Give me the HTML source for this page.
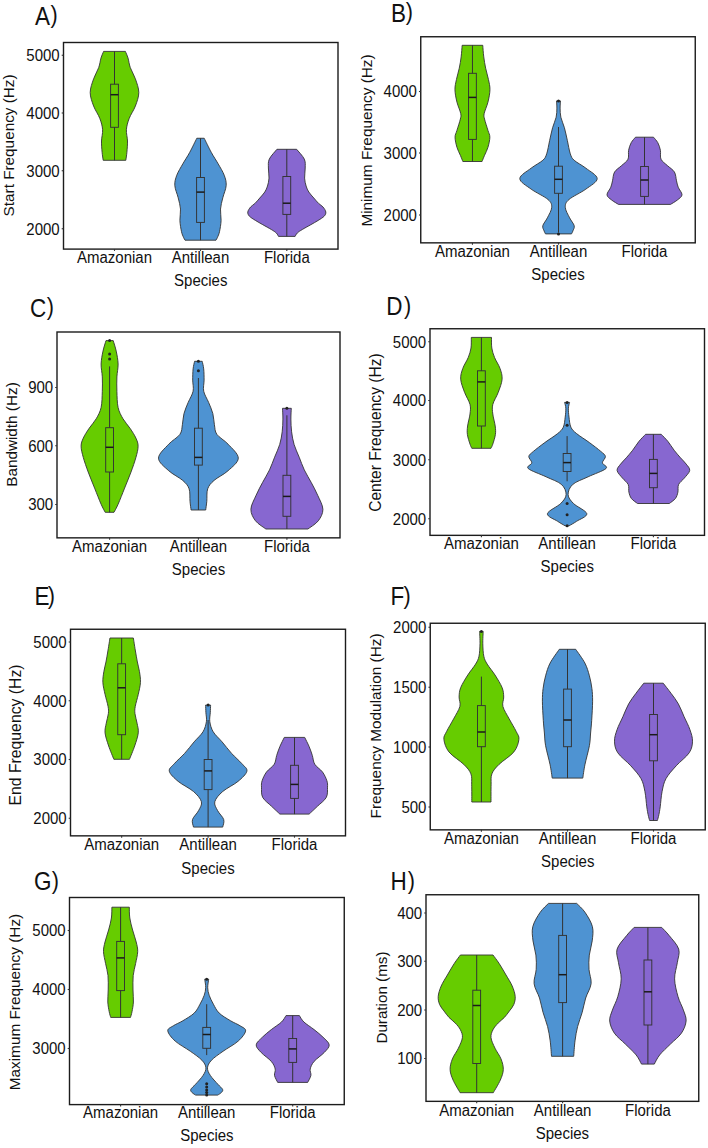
<!DOCTYPE html><html><head><meta charset="utf-8"><style>html,body{margin:0;padding:0;background:#fff;}svg{display:block;}</style></head><body>
<svg width="708" height="1148" viewBox="0 0 708 1148" style="font-family:'Liberation Sans', sans-serif">
<rect width="708" height="1148" fill="#fff"/>
<path d="M103.60,51.40 L125.40,51.40 C125.83,52.50 127.18,55.30 128.00,58.00 C128.82,60.70 129.07,64.12 130.30,67.60 C131.53,71.08 133.98,74.75 135.40,78.90 C136.82,83.05 138.80,87.98 138.80,92.50 C138.80,97.02 137.00,101.68 135.40,106.00 C133.80,110.32 130.70,114.45 129.20,118.40 C127.70,122.35 126.68,125.93 126.40,129.70 C126.12,133.47 127.42,137.23 127.50,141.00 C127.58,144.77 127.18,149.08 126.90,152.30 C126.62,155.52 125.98,158.97 125.80,160.30 L103.20,160.30 C103.02,158.97 102.38,155.52 102.10,152.30 C101.82,149.08 101.42,144.77 101.50,141.00 C101.58,137.23 102.88,133.47 102.60,129.70 C102.32,125.93 101.30,122.35 99.80,118.40 C98.30,114.45 95.20,110.32 93.60,106.00 C92.00,101.68 90.20,97.02 90.20,92.50 C90.20,87.98 92.18,83.05 93.60,78.90 C95.02,74.75 97.47,71.08 98.70,67.60 C99.93,64.12 100.18,60.70 101.00,58.00 C101.82,55.30 103.17,52.50 103.60,51.40 Z" fill="#66cc00" stroke="#333333" stroke-width="0.9" stroke-linejoin="round"/>
<line x1="114.50" y1="51.40" x2="114.50" y2="84.20" stroke="#333333" stroke-width="1"/>
<line x1="114.50" y1="127.30" x2="114.50" y2="160.30" stroke="#333333" stroke-width="1"/>
<rect x="110.60" y="84.20" width="7.80" height="43.10" fill="none" stroke="#333333" stroke-width="0.95"/>
<line x1="110.60" y1="94.70" x2="118.40" y2="94.70" stroke="#1a1a1a" stroke-width="1.5"/>
<path d="M196.80,138.25 L204.20,138.25 C205.40,140.64 209.07,148.32 211.40,152.60 C213.73,156.88 216.07,160.13 218.20,163.90 C220.33,167.67 222.87,171.62 224.20,175.20 C225.53,178.78 226.43,181.63 226.20,185.40 C225.97,189.17 223.75,193.85 222.80,197.80 C221.85,201.75 220.78,205.33 220.50,209.10 C220.22,212.87 221.27,216.63 221.10,220.40 C220.93,224.17 220.10,228.88 219.50,231.70 C218.90,234.52 218.08,235.88 217.50,237.30 C216.92,238.72 216.25,239.72 216.00,240.20 L185.00,240.20 C184.75,239.72 184.08,238.72 183.50,237.30 C182.92,235.88 182.10,234.52 181.50,231.70 C180.90,228.88 180.07,224.17 179.90,220.40 C179.73,216.63 180.78,212.87 180.50,209.10 C180.22,205.33 179.15,201.75 178.20,197.80 C177.25,193.85 175.03,189.17 174.80,185.40 C174.57,181.63 175.47,178.78 176.80,175.20 C178.13,171.62 180.67,167.67 182.80,163.90 C184.93,160.13 187.27,156.88 189.60,152.60 C191.93,148.32 195.60,140.64 196.80,138.25 Z" fill="#4e93d2" stroke="#333333" stroke-width="0.9" stroke-linejoin="round"/>
<line x1="200.50" y1="138.25" x2="200.50" y2="177.50" stroke="#333333" stroke-width="1"/>
<line x1="200.50" y1="222.40" x2="200.50" y2="240.20" stroke="#333333" stroke-width="1"/>
<rect x="196.60" y="177.50" width="7.80" height="44.90" fill="none" stroke="#333333" stroke-width="0.95"/>
<line x1="196.60" y1="192.10" x2="204.40" y2="192.10" stroke="#1a1a1a" stroke-width="1.5"/>
<path d="M276.95,149.30 L296.65,149.30 C297.93,150.93 302.88,155.98 304.30,159.10 C305.73,162.22 305.15,164.83 305.20,168.00 C305.25,171.17 304.45,175.10 304.60,178.10 C304.75,181.10 305.40,183.68 306.10,186.00 C306.80,188.32 307.52,190.00 308.80,192.00 C310.08,194.00 312.15,196.08 313.80,198.00 C315.45,199.92 317.17,202.00 318.70,203.50 C320.23,205.00 321.82,205.58 323.00,207.00 C324.18,208.42 325.60,210.47 325.80,212.00 C326.00,213.53 325.47,214.80 324.20,216.20 C322.93,217.60 320.43,218.98 318.20,220.40 C315.97,221.82 313.45,223.18 310.80,224.70 C308.15,226.22 304.55,228.12 302.30,229.50 C300.05,230.88 298.50,231.85 297.30,233.00 C296.10,234.15 295.47,235.83 295.10,236.40 L278.50,236.40 C278.13,235.83 277.50,234.15 276.30,233.00 C275.10,231.85 273.55,230.88 271.30,229.50 C269.05,228.12 265.45,226.22 262.80,224.70 C260.15,223.18 257.63,221.82 255.40,220.40 C253.17,218.98 250.67,217.60 249.40,216.20 C248.13,214.80 247.60,213.53 247.80,212.00 C248.00,210.47 249.42,208.42 250.60,207.00 C251.78,205.58 253.37,205.00 254.90,203.50 C256.43,202.00 258.15,199.92 259.80,198.00 C261.45,196.08 263.52,194.00 264.80,192.00 C266.08,190.00 266.80,188.32 267.50,186.00 C268.20,183.68 268.85,181.10 269.00,178.10 C269.15,175.10 268.35,171.17 268.40,168.00 C268.45,164.83 267.88,162.22 269.30,159.10 C270.73,155.98 275.68,150.93 276.95,149.30 Z" fill="#8767d0" stroke="#333333" stroke-width="0.9" stroke-linejoin="round"/>
<line x1="286.80" y1="149.30" x2="286.80" y2="176.50" stroke="#333333" stroke-width="1"/>
<line x1="286.80" y1="214.40" x2="286.80" y2="236.40" stroke="#333333" stroke-width="1"/>
<rect x="282.90" y="176.50" width="7.80" height="37.90" fill="none" stroke="#333333" stroke-width="0.95"/>
<line x1="282.90" y1="203.20" x2="290.70" y2="203.20" stroke="#1a1a1a" stroke-width="1.5"/>
<rect x="63.50" y="42.50" width="274.50" height="206.60" fill="none" stroke="#1c1c1c" stroke-width="1.4"/>
<line x1="61.70" y1="55.25" x2="63.50" y2="55.25" stroke="#333333" stroke-width="1.1"/>
<text x="0" y="0" font-size="15" text-anchor="end" fill="#111" transform="translate(59.70,61.05) scale(1,1.04)">5000</text>
<line x1="61.70" y1="113.00" x2="63.50" y2="113.00" stroke="#333333" stroke-width="1.1"/>
<text x="0" y="0" font-size="15" text-anchor="end" fill="#111" transform="translate(59.70,118.80) scale(1,1.04)">4000</text>
<line x1="61.70" y1="170.75" x2="63.50" y2="170.75" stroke="#333333" stroke-width="1.1"/>
<text x="0" y="0" font-size="15" text-anchor="end" fill="#111" transform="translate(59.70,176.55) scale(1,1.04)">3000</text>
<line x1="61.70" y1="228.75" x2="63.50" y2="228.75" stroke="#333333" stroke-width="1.1"/>
<text x="0" y="0" font-size="15" text-anchor="end" fill="#111" transform="translate(59.70,234.55) scale(1,1.04)">2000</text>
<line x1="114.50" y1="249.10" x2="114.50" y2="250.90" stroke="#333333" stroke-width="1.1"/>
<text x="0" y="0" font-size="15" text-anchor="middle" fill="#111" transform="translate(114.50,263.45) scale(1,1.04)">Amazonian</text>
<line x1="200.50" y1="249.10" x2="200.50" y2="250.90" stroke="#333333" stroke-width="1.1"/>
<text x="0" y="0" font-size="15" text-anchor="middle" fill="#111" transform="translate(200.50,263.45) scale(1,1.04)">Antillean</text>
<line x1="286.80" y1="249.10" x2="286.80" y2="250.90" stroke="#333333" stroke-width="1.1"/>
<text x="0" y="0" font-size="15" text-anchor="middle" fill="#111" transform="translate(286.80,263.45) scale(1,1.04)">Florida</text>
<text x="0" y="0" font-size="15" text-anchor="middle" fill="#111" transform="translate(200.75,286.45) scale(1,1.04)">Species</text>
<text x="0" y="0" font-size="15.3" text-anchor="middle" fill="#111" transform="translate(14.15,145.40) rotate(-90)">Start Frequency (Hz)</text>
<text x="0" y="0" font-size="25" fill="#111" transform="translate(35.10,24.60) scale(0.9,1)">A</text>
<text x="0" y="0" font-size="24" fill="#111" transform="translate(50.60,23.40) scale(0.9,1)">)</text>
<path d="M462.15,45.30 L482.75,45.30 C482.92,47.23 483.27,53.08 483.75,56.90 C484.23,60.72 484.87,64.43 485.65,68.20 C486.43,71.97 487.73,75.92 488.45,79.50 C489.17,83.08 490.03,85.93 489.95,89.70 C489.87,93.47 488.91,98.15 487.95,102.10 C486.99,106.05 484.77,110.57 484.20,113.40 C483.63,116.23 483.93,116.27 484.55,119.10 C485.18,121.93 487.07,127.38 487.95,130.40 C488.83,133.42 489.85,134.38 489.85,137.20 C489.85,140.02 488.83,144.28 487.95,147.30 C487.07,150.32 485.53,152.93 484.55,155.30 C483.57,157.67 482.47,160.47 482.05,161.50 L462.85,161.50 C462.43,160.47 461.33,157.67 460.35,155.30 C459.37,152.93 457.83,150.32 456.95,147.30 C456.07,144.28 455.05,140.02 455.05,137.20 C455.05,134.38 456.07,133.42 456.95,130.40 C457.83,127.38 459.72,121.93 460.35,119.10 C460.97,116.27 461.27,116.23 460.70,113.40 C460.13,110.57 457.91,106.05 456.95,102.10 C455.99,98.15 455.03,93.47 454.95,89.70 C454.87,85.93 455.73,83.08 456.45,79.50 C457.17,75.92 458.47,71.97 459.25,68.20 C460.03,64.43 460.67,60.72 461.15,56.90 C461.63,53.08 461.98,47.23 462.15,45.30 Z" fill="#66cc00" stroke="#333333" stroke-width="0.9" stroke-linejoin="round"/>
<line x1="472.45" y1="45.30" x2="472.45" y2="73.30" stroke="#333333" stroke-width="1"/>
<line x1="472.45" y1="139.40" x2="472.45" y2="161.50" stroke="#333333" stroke-width="1"/>
<rect x="468.55" y="73.30" width="7.80" height="66.10" fill="none" stroke="#333333" stroke-width="0.95"/>
<line x1="468.55" y1="97.40" x2="476.35" y2="97.40" stroke="#1a1a1a" stroke-width="1.5"/>
<path d="M556.50,100.90 L560.50,100.90 C560.43,102.10 560.04,105.38 560.10,108.10 C560.16,110.82 560.13,113.93 560.85,117.20 C561.57,120.47 563.31,123.78 564.40,127.70 C565.49,131.62 566.42,136.35 567.40,140.70 C568.38,145.05 569.17,150.53 570.30,153.80 C571.43,157.07 571.60,157.90 574.20,160.30 C576.80,162.70 582.07,165.15 585.90,168.20 C589.73,171.25 597.20,175.12 597.20,178.60 C597.20,182.08 590.60,185.62 585.90,189.10 C581.20,192.58 572.43,196.45 569.00,199.50 C565.57,202.55 565.20,204.35 565.30,207.40 C565.40,210.45 568.12,214.75 569.60,217.80 C571.08,220.85 573.65,223.52 574.20,225.70 C574.75,227.88 573.35,229.53 572.90,230.90 C572.45,232.27 571.73,233.40 571.50,233.90 L545.50,233.90 C545.27,233.40 544.55,232.27 544.10,230.90 C543.65,229.53 542.25,227.88 542.80,225.70 C543.35,223.52 545.92,220.85 547.40,217.80 C548.88,214.75 551.60,210.45 551.70,207.40 C551.80,204.35 551.43,202.55 548.00,199.50 C544.57,196.45 535.80,192.58 531.10,189.10 C526.40,185.62 519.80,182.08 519.80,178.60 C519.80,175.12 527.27,171.25 531.10,168.20 C534.93,165.15 540.20,162.70 542.80,160.30 C545.40,157.90 545.57,157.07 546.70,153.80 C547.83,150.53 548.62,145.05 549.60,140.70 C550.58,136.35 551.51,131.62 552.60,127.70 C553.69,123.78 555.43,120.47 556.15,117.20 C556.87,113.93 556.84,110.82 556.90,108.10 C556.96,105.38 556.57,102.10 556.50,100.90 Z" fill="#4e93d2" stroke="#333333" stroke-width="0.9" stroke-linejoin="round"/>
<line x1="558.50" y1="127.00" x2="558.50" y2="166.20" stroke="#333333" stroke-width="1"/>
<line x1="558.50" y1="193.30" x2="558.50" y2="232.50" stroke="#333333" stroke-width="1"/>
<rect x="554.60" y="166.20" width="7.80" height="27.10" fill="none" stroke="#333333" stroke-width="0.95"/>
<line x1="554.60" y1="179.30" x2="562.40" y2="179.30" stroke="#1a1a1a" stroke-width="1.5"/>
<circle cx="558.50" cy="101.10" r="1.5" fill="#222"/>
<circle cx="558.50" cy="233.90" r="1.5" fill="#222"/>
<path d="M635.50,137.20 L653.50,137.20 C654.22,138.12 656.65,140.52 657.80,142.70 C658.95,144.88 659.87,147.55 660.40,150.30 C660.93,153.05 659.83,156.65 661.00,159.20 C662.17,161.75 665.17,163.47 667.40,165.60 C669.63,167.73 672.88,169.47 674.40,172.00 C675.92,174.53 675.87,178.27 676.50,180.80 C677.13,183.33 677.28,184.87 678.20,187.20 C679.12,189.53 682.12,192.68 682.00,194.80 C681.88,196.92 679.42,198.30 677.50,199.90 C675.58,201.50 671.67,203.65 670.50,204.40 L618.50,204.40 C617.33,203.65 613.42,201.50 611.50,199.90 C609.58,198.30 607.12,196.92 607.00,194.80 C606.88,192.68 609.88,189.53 610.80,187.20 C611.72,184.87 611.87,183.33 612.50,180.80 C613.13,178.27 613.08,174.53 614.60,172.00 C616.12,169.47 619.37,167.73 621.60,165.60 C623.83,163.47 626.83,161.75 628.00,159.20 C629.17,156.65 628.07,153.05 628.60,150.30 C629.13,147.55 630.05,144.88 631.20,142.70 C632.35,140.52 634.78,138.12 635.50,137.20 Z" fill="#8767d0" stroke="#333333" stroke-width="0.9" stroke-linejoin="round"/>
<line x1="644.50" y1="137.20" x2="644.50" y2="166.50" stroke="#333333" stroke-width="1"/>
<line x1="644.50" y1="196.40" x2="644.50" y2="204.40" stroke="#333333" stroke-width="1"/>
<rect x="640.60" y="166.50" width="7.80" height="29.90" fill="none" stroke="#333333" stroke-width="0.95"/>
<line x1="640.60" y1="180.00" x2="648.40" y2="180.00" stroke="#1a1a1a" stroke-width="1.5"/>
<rect x="420.75" y="36.75" width="274.50" height="206.10" fill="none" stroke="#1c1c1c" stroke-width="1.4"/>
<line x1="418.95" y1="91.50" x2="420.75" y2="91.50" stroke="#333333" stroke-width="1.1"/>
<text x="0" y="0" font-size="15" text-anchor="end" fill="#111" transform="translate(416.95,97.30) scale(1,1.04)">4000</text>
<line x1="418.95" y1="153.00" x2="420.75" y2="153.00" stroke="#333333" stroke-width="1.1"/>
<text x="0" y="0" font-size="15" text-anchor="end" fill="#111" transform="translate(416.95,158.80) scale(1,1.04)">3000</text>
<line x1="418.95" y1="215.00" x2="420.75" y2="215.00" stroke="#333333" stroke-width="1.1"/>
<text x="0" y="0" font-size="15" text-anchor="end" fill="#111" transform="translate(416.95,220.80) scale(1,1.04)">2000</text>
<line x1="472.45" y1="242.85" x2="472.45" y2="244.65" stroke="#333333" stroke-width="1.1"/>
<text x="0" y="0" font-size="15" text-anchor="middle" fill="#111" transform="translate(472.45,257.20) scale(1,1.04)">Amazonian</text>
<line x1="558.50" y1="242.85" x2="558.50" y2="244.65" stroke="#333333" stroke-width="1.1"/>
<text x="0" y="0" font-size="15" text-anchor="middle" fill="#111" transform="translate(558.50,257.20) scale(1,1.04)">Antillean</text>
<line x1="644.50" y1="242.85" x2="644.50" y2="244.65" stroke="#333333" stroke-width="1.1"/>
<text x="0" y="0" font-size="15" text-anchor="middle" fill="#111" transform="translate(644.50,257.20) scale(1,1.04)">Florida</text>
<text x="0" y="0" font-size="15" text-anchor="middle" fill="#111" transform="translate(558.00,280.20) scale(1,1.04)">Species</text>
<text x="0" y="0" font-size="15.35" text-anchor="middle" fill="#111" transform="translate(372.10,140.50) rotate(-90)">Minimum Frequency (Hz)</text>
<text x="0" y="0" font-size="25" fill="#111" transform="translate(391.00,21.50) scale(0.9,1)">B</text>
<text x="0" y="0" font-size="24" fill="#111" transform="translate(405.70,20.30) scale(0.9,1)">)</text>
<path d="M106.00,340.60 L113.20,340.60 C113.70,342.35 115.38,347.20 116.20,351.10 C117.02,355.00 117.98,359.70 118.10,364.00 C118.22,368.30 117.10,372.33 116.90,376.90 C116.70,381.47 116.70,386.30 116.90,391.40 C117.10,396.50 117.08,402.93 118.10,407.50 C119.12,412.07 120.98,415.30 123.00,418.80 C125.02,422.30 128.05,425.28 130.20,428.50 C132.35,431.72 134.58,435.15 135.90,438.10 C137.22,441.05 138.10,442.97 138.10,446.20 C138.10,449.43 137.08,453.20 135.90,457.50 C134.72,461.80 132.88,466.90 131.00,472.00 C129.12,477.10 126.75,482.73 124.60,488.10 C122.45,493.47 119.87,500.17 118.10,504.20 C116.33,508.23 114.68,510.95 114.00,512.30 L105.20,512.30 C104.52,510.95 102.87,508.23 101.10,504.20 C99.33,500.17 96.75,493.47 94.60,488.10 C92.45,482.73 90.08,477.10 88.20,472.00 C86.32,466.90 84.48,461.80 83.30,457.50 C82.12,453.20 81.10,449.43 81.10,446.20 C81.10,442.97 81.98,441.05 83.30,438.10 C84.62,435.15 86.85,431.72 89.00,428.50 C91.15,425.28 94.18,422.30 96.20,418.80 C98.22,415.30 100.08,412.07 101.10,407.50 C102.12,402.93 102.10,396.50 102.30,391.40 C102.50,386.30 102.50,381.47 102.30,376.90 C102.10,372.33 100.98,368.30 101.10,364.00 C101.22,359.70 102.18,355.00 103.00,351.10 C103.82,347.20 105.50,342.35 106.00,340.60 Z" fill="#66cc00" stroke="#333333" stroke-width="0.9" stroke-linejoin="round"/>
<line x1="109.60" y1="366.40" x2="109.60" y2="427.70" stroke="#333333" stroke-width="1"/>
<line x1="109.60" y1="472.00" x2="109.60" y2="512.30" stroke="#333333" stroke-width="1"/>
<rect x="105.70" y="427.70" width="7.80" height="44.30" fill="none" stroke="#333333" stroke-width="0.95"/>
<line x1="105.70" y1="447.30" x2="113.50" y2="447.30" stroke="#1a1a1a" stroke-width="1.5"/>
<circle cx="109.60" cy="340.60" r="1.5" fill="#222"/>
<circle cx="109.60" cy="353.90" r="1.5" fill="#222"/>
<circle cx="109.60" cy="358.90" r="1.5" fill="#222"/>
<path d="M194.60,361.30 L202.20,361.30 C202.45,362.57 203.38,365.77 203.70,368.90 C204.02,372.03 204.10,376.38 204.10,380.10 C204.10,383.82 202.95,387.48 203.70,391.20 C204.45,394.92 207.08,398.68 208.60,402.40 C210.12,406.12 211.83,409.78 212.80,413.50 C213.77,417.22 213.72,421.22 214.40,424.70 C215.08,428.18 214.62,431.15 216.90,434.40 C219.18,437.65 224.53,440.25 228.10,444.20 C231.67,448.15 238.30,453.68 238.30,458.10 C238.30,462.52 232.13,466.98 228.10,470.70 C224.07,474.42 217.50,477.38 214.10,480.40 C210.70,483.42 208.92,485.32 207.70,488.80 C206.48,492.28 207.13,497.77 206.80,501.30 C206.47,504.83 205.88,508.55 205.70,510.00 L191.10,510.00 C190.92,508.55 190.33,504.83 190.00,501.30 C189.67,497.77 190.32,492.28 189.10,488.80 C187.88,485.32 186.10,483.42 182.70,480.40 C179.30,477.38 172.73,474.42 168.70,470.70 C164.67,466.98 158.50,462.52 158.50,458.10 C158.50,453.68 165.13,448.15 168.70,444.20 C172.27,440.25 177.62,437.65 179.90,434.40 C182.18,431.15 181.72,428.18 182.40,424.70 C183.08,421.22 183.03,417.22 184.00,413.50 C184.97,409.78 186.68,406.12 188.20,402.40 C189.72,398.68 192.35,394.92 193.10,391.20 C193.85,387.48 192.70,383.82 192.70,380.10 C192.70,376.38 192.78,372.03 193.10,368.90 C193.42,365.77 194.35,362.57 194.60,361.30 Z" fill="#4e93d2" stroke="#333333" stroke-width="0.9" stroke-linejoin="round"/>
<line x1="198.40" y1="378.00" x2="198.40" y2="428.20" stroke="#333333" stroke-width="1"/>
<line x1="198.40" y1="465.10" x2="198.40" y2="510.00" stroke="#333333" stroke-width="1"/>
<rect x="194.50" y="428.20" width="7.80" height="36.90" fill="none" stroke="#333333" stroke-width="0.95"/>
<line x1="194.50" y1="457.40" x2="202.30" y2="457.40" stroke="#1a1a1a" stroke-width="1.5"/>
<circle cx="198.40" cy="361.30" r="1.5" fill="#222"/>
<circle cx="198.40" cy="370.70" r="1.5" fill="#222"/>
<path d="M282.50,408.30 L291.30,408.30 C291.23,410.10 290.85,415.18 290.90,419.10 C290.95,423.02 291.07,427.57 291.60,431.80 C292.13,436.03 292.83,440.27 294.10,444.50 C295.37,448.73 297.50,452.97 299.20,457.20 C300.90,461.43 302.28,465.67 304.30,469.90 C306.32,474.13 309.07,478.37 311.30,482.60 C313.53,486.83 315.77,490.85 317.70,495.30 C319.63,499.75 322.80,505.05 322.90,509.30 C323.00,513.55 320.80,517.52 318.30,520.80 C315.80,524.08 309.63,527.63 307.90,529.00 L265.90,529.00 C264.17,527.63 258.00,524.08 255.50,520.80 C253.00,517.52 250.80,513.55 250.90,509.30 C251.00,505.05 254.17,499.75 256.10,495.30 C258.03,490.85 260.27,486.83 262.50,482.60 C264.73,478.37 267.48,474.13 269.50,469.90 C271.52,465.67 272.90,461.43 274.60,457.20 C276.30,452.97 278.43,448.73 279.70,444.50 C280.97,440.27 281.67,436.03 282.20,431.80 C282.73,427.57 282.85,423.02 282.90,419.10 C282.95,415.18 282.57,410.10 282.50,408.30 Z" fill="#8767d0" stroke="#333333" stroke-width="0.9" stroke-linejoin="round"/>
<line x1="286.90" y1="415.30" x2="286.90" y2="475.30" stroke="#333333" stroke-width="1"/>
<line x1="286.90" y1="516.30" x2="286.90" y2="529.00" stroke="#333333" stroke-width="1"/>
<rect x="283.00" y="475.30" width="7.80" height="41.00" fill="none" stroke="#333333" stroke-width="0.95"/>
<line x1="283.00" y1="496.40" x2="290.80" y2="496.40" stroke="#1a1a1a" stroke-width="1.5"/>
<circle cx="286.90" cy="408.30" r="1.5" fill="#222"/>
<rect x="57.00" y="332.00" width="283.00" height="205.85" fill="none" stroke="#1c1c1c" stroke-width="1.4"/>
<line x1="55.20" y1="387.50" x2="57.00" y2="387.50" stroke="#333333" stroke-width="1.1"/>
<text x="0" y="0" font-size="15" text-anchor="end" fill="#111" transform="translate(53.20,393.30) scale(1,1.04)">900</text>
<line x1="55.20" y1="445.75" x2="57.00" y2="445.75" stroke="#333333" stroke-width="1.1"/>
<text x="0" y="0" font-size="15" text-anchor="end" fill="#111" transform="translate(53.20,451.55) scale(1,1.04)">600</text>
<line x1="55.20" y1="504.50" x2="57.00" y2="504.50" stroke="#333333" stroke-width="1.1"/>
<text x="0" y="0" font-size="15" text-anchor="end" fill="#111" transform="translate(53.20,510.30) scale(1,1.04)">300</text>
<line x1="109.60" y1="537.85" x2="109.60" y2="539.65" stroke="#333333" stroke-width="1.1"/>
<text x="0" y="0" font-size="15" text-anchor="middle" fill="#111" transform="translate(109.60,552.20) scale(1,1.04)">Amazonian</text>
<line x1="198.40" y1="537.85" x2="198.40" y2="539.65" stroke="#333333" stroke-width="1.1"/>
<text x="0" y="0" font-size="15" text-anchor="middle" fill="#111" transform="translate(198.40,552.20) scale(1,1.04)">Antillean</text>
<line x1="286.90" y1="537.85" x2="286.90" y2="539.65" stroke="#333333" stroke-width="1.1"/>
<text x="0" y="0" font-size="15" text-anchor="middle" fill="#111" transform="translate(286.90,552.20) scale(1,1.04)">Florida</text>
<text x="0" y="0" font-size="15" text-anchor="middle" fill="#111" transform="translate(198.50,575.20) scale(1,1.04)">Species</text>
<text x="0" y="0" font-size="15.3" text-anchor="middle" fill="#111" transform="translate(16.80,434.53) rotate(-90)">Bandwidth (Hz)</text>
<text x="0" y="0" font-size="25" fill="#111" transform="translate(30.10,316.60) scale(0.9,1)">C</text>
<text x="0" y="0" font-size="24" fill="#111" transform="translate(46.80,315.40) scale(0.9,1)">)</text>
<path d="M471.30,337.40 L491.50,337.40 C491.55,339.17 491.28,344.63 491.80,348.00 C492.32,351.37 493.23,354.20 494.60,357.60 C495.97,361.00 498.75,364.80 500.00,368.40 C501.25,372.00 502.40,375.20 502.10,379.20 C501.80,383.20 499.75,388.20 498.20,392.40 C496.65,396.60 493.70,400.80 492.80,404.40 C491.90,408.00 492.40,410.40 492.80,414.00 C493.20,417.60 494.77,422.58 495.20,426.00 C495.63,429.42 495.80,431.48 495.40,434.50 C495.00,437.52 493.53,441.80 492.80,444.10 C492.07,446.40 491.30,447.60 491.00,448.30 L471.80,448.30 C471.50,447.60 470.73,446.40 470.00,444.10 C469.27,441.80 467.80,437.52 467.40,434.50 C467.00,431.48 467.17,429.42 467.60,426.00 C468.03,422.58 469.60,417.60 470.00,414.00 C470.40,410.40 470.90,408.00 470.00,404.40 C469.10,400.80 466.15,396.60 464.60,392.40 C463.05,388.20 461.00,383.20 460.70,379.20 C460.40,375.20 461.55,372.00 462.80,368.40 C464.05,364.80 466.83,361.00 468.20,357.60 C469.57,354.20 470.48,351.37 471.00,348.00 C471.52,344.63 471.25,339.17 471.30,337.40 Z" fill="#66cc00" stroke="#333333" stroke-width="0.9" stroke-linejoin="round"/>
<line x1="481.40" y1="337.40" x2="481.40" y2="370.80" stroke="#333333" stroke-width="1"/>
<line x1="481.40" y1="426.00" x2="481.40" y2="448.30" stroke="#333333" stroke-width="1"/>
<rect x="477.50" y="370.80" width="7.80" height="55.20" fill="none" stroke="#333333" stroke-width="0.95"/>
<line x1="477.50" y1="381.90" x2="485.30" y2="381.90" stroke="#1a1a1a" stroke-width="1.5"/>
<path d="M564.60,402.40 L569.60,402.40 C569.40,403.37 568.50,405.75 568.40,408.20 C568.30,410.65 568.58,413.93 569.00,417.10 C569.42,420.27 569.63,424.45 570.90,427.20 C572.17,429.95 573.53,431.05 576.60,433.60 C579.67,436.15 585.27,439.53 589.30,442.50 C593.33,445.47 598.12,449.07 600.80,451.40 C603.48,453.73 605.13,454.60 605.40,456.50 C605.67,458.40 602.30,460.80 602.40,462.80 C602.50,464.80 608.38,466.17 606.00,468.50 C603.62,470.83 593.63,474.15 588.10,476.80 C582.57,479.45 576.13,481.43 572.80,484.40 C569.47,487.37 567.98,491.42 568.10,494.60 C568.22,497.78 570.38,500.32 573.50,503.50 C576.62,506.68 586.28,510.73 586.80,513.70 C587.32,516.67 579.55,519.28 576.60,521.30 C573.65,523.32 570.35,525.05 569.10,525.80 L565.10,525.80 C563.85,525.05 560.55,523.32 557.60,521.30 C554.65,519.28 546.88,516.67 547.40,513.70 C547.92,510.73 557.58,506.68 560.70,503.50 C563.82,500.32 565.98,497.78 566.10,494.60 C566.22,491.42 564.73,487.37 561.40,484.40 C558.07,481.43 551.63,479.45 546.10,476.80 C540.57,474.15 530.58,470.83 528.20,468.50 C525.82,466.17 531.70,464.80 531.80,462.80 C531.90,460.80 528.53,458.40 528.80,456.50 C529.07,454.60 530.72,453.73 533.40,451.40 C536.08,449.07 540.87,445.47 544.90,442.50 C548.93,439.53 554.53,436.15 557.60,433.60 C560.67,431.05 562.03,429.95 563.30,427.20 C564.57,424.45 564.78,420.27 565.20,417.10 C565.62,413.93 565.90,410.65 565.80,408.20 C565.70,405.75 564.80,403.37 564.60,402.40 Z" fill="#4e93d2" stroke="#333333" stroke-width="0.9" stroke-linejoin="round"/>
<line x1="567.10" y1="436.10" x2="567.10" y2="453.50" stroke="#333333" stroke-width="1"/>
<line x1="567.10" y1="471.50" x2="567.10" y2="481.30" stroke="#333333" stroke-width="1"/>
<rect x="563.20" y="453.50" width="7.80" height="18.00" fill="none" stroke="#333333" stroke-width="0.95"/>
<line x1="563.20" y1="462.60" x2="571.00" y2="462.60" stroke="#1a1a1a" stroke-width="1.5"/>
<circle cx="567.10" cy="402.40" r="1.5" fill="#222"/>
<circle cx="567.10" cy="425.30" r="1.5" fill="#222"/>
<circle cx="567.10" cy="503.50" r="1.5" fill="#222"/>
<circle cx="567.10" cy="514.70" r="1.5" fill="#222"/>
<circle cx="567.10" cy="525.80" r="1.5" fill="#222"/>
<path d="M645.60,434.30 L661.20,434.30 C662.30,435.47 665.65,438.65 667.80,441.30 C669.95,443.95 671.98,447.45 674.10,450.20 C676.22,452.95 678.48,455.48 680.50,457.80 C682.52,460.12 684.67,461.98 686.20,464.10 C687.73,466.22 690.02,468.17 689.70,470.50 C689.38,472.83 686.15,475.77 684.30,478.10 C682.45,480.43 679.67,482.17 678.60,484.50 C677.53,486.83 678.43,489.77 677.90,492.10 C677.37,494.43 676.83,496.60 675.40,498.50 C673.97,500.40 670.32,502.67 669.30,503.50 L637.50,503.50 C636.48,502.67 632.83,500.40 631.40,498.50 C629.97,496.60 629.43,494.43 628.90,492.10 C628.37,489.77 629.27,486.83 628.20,484.50 C627.13,482.17 624.35,480.43 622.50,478.10 C620.65,475.77 617.42,472.83 617.10,470.50 C616.78,468.17 619.07,466.22 620.60,464.10 C622.13,461.98 624.28,460.12 626.30,457.80 C628.32,455.48 630.58,452.95 632.70,450.20 C634.82,447.45 636.85,443.95 639.00,441.30 C641.15,438.65 644.50,435.47 645.60,434.30 Z" fill="#8767d0" stroke="#333333" stroke-width="0.9" stroke-linejoin="round"/>
<line x1="653.40" y1="434.30" x2="653.40" y2="459.40" stroke="#333333" stroke-width="1"/>
<line x1="653.40" y1="487.70" x2="653.40" y2="503.50" stroke="#333333" stroke-width="1"/>
<rect x="649.50" y="459.40" width="7.80" height="28.30" fill="none" stroke="#333333" stroke-width="0.95"/>
<line x1="649.50" y1="473.40" x2="657.30" y2="473.40" stroke="#1a1a1a" stroke-width="1.5"/>
<rect x="430.00" y="328.75" width="274.50" height="206.60" fill="none" stroke="#1c1c1c" stroke-width="1.4"/>
<line x1="428.20" y1="341.75" x2="430.00" y2="341.75" stroke="#333333" stroke-width="1.1"/>
<text x="0" y="0" font-size="15" text-anchor="end" fill="#111" transform="translate(426.20,347.55) scale(1,1.04)">5000</text>
<line x1="428.20" y1="400.50" x2="430.00" y2="400.50" stroke="#333333" stroke-width="1.1"/>
<text x="0" y="0" font-size="15" text-anchor="end" fill="#111" transform="translate(426.20,406.30) scale(1,1.04)">4000</text>
<line x1="428.20" y1="459.75" x2="430.00" y2="459.75" stroke="#333333" stroke-width="1.1"/>
<text x="0" y="0" font-size="15" text-anchor="end" fill="#111" transform="translate(426.20,465.55) scale(1,1.04)">3000</text>
<line x1="428.20" y1="518.75" x2="430.00" y2="518.75" stroke="#333333" stroke-width="1.1"/>
<text x="0" y="0" font-size="15" text-anchor="end" fill="#111" transform="translate(426.20,524.55) scale(1,1.04)">2000</text>
<line x1="481.40" y1="535.35" x2="481.40" y2="537.15" stroke="#333333" stroke-width="1.1"/>
<text x="0" y="0" font-size="15" text-anchor="middle" fill="#111" transform="translate(481.40,548.95) scale(1,1.04)">Amazonian</text>
<line x1="567.10" y1="535.35" x2="567.10" y2="537.15" stroke="#333333" stroke-width="1.1"/>
<text x="0" y="0" font-size="15" text-anchor="middle" fill="#111" transform="translate(567.10,548.95) scale(1,1.04)">Antillean</text>
<line x1="653.40" y1="535.35" x2="653.40" y2="537.15" stroke="#333333" stroke-width="1.1"/>
<text x="0" y="0" font-size="15" text-anchor="middle" fill="#111" transform="translate(653.40,548.95) scale(1,1.04)">Florida</text>
<text x="0" y="0" font-size="15" text-anchor="middle" fill="#111" transform="translate(567.25,572.20) scale(1,1.04)">Species</text>
<text x="0" y="0" font-size="15.6" text-anchor="middle" fill="#111" transform="translate(380.85,432.55) rotate(-90)">Center Frequency (Hz)</text>
<text x="0" y="0" font-size="25" fill="#111" transform="translate(386.20,315.40) scale(0.9,1)">D</text>
<text x="0" y="0" font-size="24" fill="#111" transform="translate(404.00,314.20) scale(0.9,1)">)</text>
<path d="M109.96,638.00 L133.36,638.00 C133.68,640.00 134.59,646.00 135.26,650.00 C135.93,654.00 136.66,658.40 137.36,662.00 C138.06,665.60 138.94,668.20 139.46,671.60 C139.98,675.00 140.66,678.60 140.46,682.40 C140.26,686.20 139.13,690.40 138.26,694.40 C137.39,698.40 135.81,703.20 135.26,706.40 C134.71,709.60 134.66,710.80 134.96,713.60 C135.26,716.40 136.51,719.98 137.06,723.20 C137.61,726.42 138.66,729.10 138.26,732.90 C137.86,736.70 136.13,741.60 134.66,746.00 C133.19,750.40 130.33,757.08 129.46,759.30 L113.86,759.30 C112.99,757.08 110.13,750.40 108.66,746.00 C107.19,741.60 105.46,736.70 105.06,732.90 C104.66,729.10 105.71,726.42 106.26,723.20 C106.81,719.98 108.06,716.40 108.36,713.60 C108.66,710.80 108.61,709.60 108.06,706.40 C107.51,703.20 105.93,698.40 105.06,694.40 C104.19,690.40 103.06,686.20 102.86,682.40 C102.66,678.60 103.34,675.00 103.86,671.60 C104.38,668.20 105.26,665.60 105.96,662.00 C106.66,658.40 107.39,654.00 108.06,650.00 C108.73,646.00 109.64,640.00 109.96,638.00 Z" fill="#66cc00" stroke="#333333" stroke-width="0.9" stroke-linejoin="round"/>
<line x1="121.66" y1="638.00" x2="121.66" y2="663.80" stroke="#333333" stroke-width="1"/>
<line x1="121.66" y1="734.70" x2="121.66" y2="759.30" stroke="#333333" stroke-width="1"/>
<rect x="117.76" y="663.80" width="7.80" height="70.90" fill="none" stroke="#333333" stroke-width="0.95"/>
<line x1="117.76" y1="687.80" x2="125.56" y2="687.80" stroke="#1a1a1a" stroke-width="1.5"/>
<path d="M205.60,705.10 L210.60,705.10 C210.55,706.37 210.43,709.95 210.30,712.70 C210.17,715.45 209.32,718.42 209.80,721.60 C210.28,724.78 211.15,728.42 213.20,731.80 C215.25,735.18 219.03,738.30 222.10,741.90 C225.17,745.50 228.32,749.78 231.60,753.40 C234.88,757.02 239.25,760.63 241.80,763.60 C244.35,766.57 247.53,768.23 246.90,771.20 C246.27,774.17 242.03,778.02 238.00,781.40 C233.97,784.78 226.57,788.12 222.70,791.50 C218.83,794.88 215.65,798.52 214.80,801.70 C213.95,804.88 216.12,807.63 217.60,810.60 C219.08,813.57 222.85,816.75 223.70,819.50 C224.55,822.25 222.87,825.83 222.70,827.10 L193.50,827.10 C193.33,825.83 191.65,822.25 192.50,819.50 C193.35,816.75 197.12,813.57 198.60,810.60 C200.08,807.63 202.25,804.88 201.40,801.70 C200.55,798.52 197.37,794.88 193.50,791.50 C189.63,788.12 182.23,784.78 178.20,781.40 C174.17,778.02 169.93,774.17 169.30,771.20 C168.67,768.23 171.85,766.57 174.40,763.60 C176.95,760.63 181.32,757.02 184.60,753.40 C187.88,749.78 191.03,745.50 194.10,741.90 C197.17,738.30 200.95,735.18 203.00,731.80 C205.05,728.42 205.92,724.78 206.40,721.60 C206.88,718.42 206.03,715.45 205.90,712.70 C205.77,709.95 205.65,706.37 205.60,705.10 Z" fill="#4e93d2" stroke="#333333" stroke-width="0.9" stroke-linejoin="round"/>
<line x1="208.10" y1="720.00" x2="208.10" y2="759.50" stroke="#333333" stroke-width="1"/>
<line x1="208.10" y1="789.60" x2="208.10" y2="827.10" stroke="#333333" stroke-width="1"/>
<rect x="204.20" y="759.50" width="7.80" height="30.10" fill="none" stroke="#333333" stroke-width="0.95"/>
<line x1="204.20" y1="770.90" x2="212.00" y2="770.90" stroke="#1a1a1a" stroke-width="1.5"/>
<circle cx="208.10" cy="705.10" r="1.5" fill="#222"/>
<path d="M284.30,737.40 L304.70,737.40 C305.43,738.92 307.83,743.50 309.10,746.50 C310.37,749.50 311.35,752.43 312.30,755.40 C313.25,758.37 313.10,761.53 314.80,764.30 C316.50,767.07 320.48,769.25 322.50,772.00 C324.52,774.75 326.07,778.27 326.90,780.80 C327.73,783.33 327.60,784.43 327.50,787.20 C327.40,789.97 327.98,794.22 326.30,797.40 C324.62,800.58 320.27,803.52 317.40,806.30 C314.53,809.08 310.48,812.80 309.10,814.10 L279.90,814.10 C278.52,812.80 274.47,809.08 271.60,806.30 C268.73,803.52 264.38,800.58 262.70,797.40 C261.02,794.22 261.60,789.97 261.50,787.20 C261.40,784.43 261.27,783.33 262.10,780.80 C262.93,778.27 264.48,774.75 266.50,772.00 C268.52,769.25 272.50,767.07 274.20,764.30 C275.90,761.53 275.75,758.37 276.70,755.40 C277.65,752.43 278.63,749.50 279.90,746.50 C281.17,743.50 283.57,738.92 284.30,737.40 Z" fill="#8767d0" stroke="#333333" stroke-width="0.9" stroke-linejoin="round"/>
<line x1="294.50" y1="737.40" x2="294.50" y2="765.30" stroke="#333333" stroke-width="1"/>
<line x1="294.50" y1="798.40" x2="294.50" y2="814.10" stroke="#333333" stroke-width="1"/>
<rect x="290.60" y="765.30" width="7.80" height="33.10" fill="none" stroke="#333333" stroke-width="0.95"/>
<line x1="290.60" y1="784.40" x2="298.40" y2="784.40" stroke="#1a1a1a" stroke-width="1.5"/>
<rect x="70.50" y="629.25" width="275.00" height="206.60" fill="none" stroke="#1c1c1c" stroke-width="1.4"/>
<line x1="68.70" y1="642.00" x2="70.50" y2="642.00" stroke="#333333" stroke-width="1.1"/>
<text x="0" y="0" font-size="15" text-anchor="end" fill="#111" transform="translate(66.70,647.80) scale(1,1.04)">5000</text>
<line x1="68.70" y1="700.75" x2="70.50" y2="700.75" stroke="#333333" stroke-width="1.1"/>
<text x="0" y="0" font-size="15" text-anchor="end" fill="#111" transform="translate(66.70,706.55) scale(1,1.04)">4000</text>
<line x1="68.70" y1="759.50" x2="70.50" y2="759.50" stroke="#333333" stroke-width="1.1"/>
<text x="0" y="0" font-size="15" text-anchor="end" fill="#111" transform="translate(66.70,765.30) scale(1,1.04)">3000</text>
<line x1="68.70" y1="818.25" x2="70.50" y2="818.25" stroke="#333333" stroke-width="1.1"/>
<text x="0" y="0" font-size="15" text-anchor="end" fill="#111" transform="translate(66.70,824.05) scale(1,1.04)">2000</text>
<line x1="121.66" y1="835.85" x2="121.66" y2="837.65" stroke="#333333" stroke-width="1.1"/>
<text x="0" y="0" font-size="15" text-anchor="middle" fill="#111" transform="translate(121.66,850.20) scale(1,1.04)">Amazonian</text>
<line x1="208.10" y1="835.85" x2="208.10" y2="837.65" stroke="#333333" stroke-width="1.1"/>
<text x="0" y="0" font-size="15" text-anchor="middle" fill="#111" transform="translate(208.10,850.20) scale(1,1.04)">Antillean</text>
<line x1="294.50" y1="835.85" x2="294.50" y2="837.65" stroke="#333333" stroke-width="1.1"/>
<text x="0" y="0" font-size="15" text-anchor="middle" fill="#111" transform="translate(294.50,850.20) scale(1,1.04)">Florida</text>
<text x="0" y="0" font-size="15" text-anchor="middle" fill="#111" transform="translate(208.00,873.70) scale(1,1.04)">Species</text>
<text x="0" y="0" font-size="15.75" text-anchor="middle" fill="#111" transform="translate(20.80,734.95) rotate(-90)">End Frequency (Hz)</text>
<text x="0" y="0" font-size="25" fill="#111" transform="translate(34.50,604.90) scale(0.9,1)">E</text>
<text x="0" y="0" font-size="24" fill="#111" transform="translate(47.70,603.70) scale(0.9,1)">)</text>
<path d="M479.60,631.40 L483.20,631.40 C483.13,633.45 482.70,639.57 482.80,643.70 C482.90,647.83 483.07,652.80 483.80,656.20 C484.53,659.60 485.33,660.97 487.20,664.10 C489.07,667.23 492.52,671.08 495.00,675.00 C497.48,678.92 500.65,683.93 502.10,687.60 C503.55,691.27 503.57,693.87 503.70,697.00 C503.83,700.13 501.98,702.75 502.90,706.40 C503.82,710.05 506.98,714.72 509.20,718.90 C511.42,723.08 514.58,728.10 516.20,731.50 C517.82,734.90 519.28,735.90 518.90,739.30 C518.52,742.70 517.22,747.72 513.90,751.90 C510.58,756.08 502.67,760.75 499.00,764.40 C495.33,768.05 493.22,770.40 491.90,773.80 C490.58,777.20 491.25,780.10 491.10,784.80 C490.95,789.50 491.02,799.13 491.00,802.00 L471.80,802.00 C471.78,799.13 471.85,789.50 471.70,784.80 C471.55,780.10 472.22,777.20 470.90,773.80 C469.58,770.40 467.47,768.05 463.80,764.40 C460.13,760.75 452.22,756.08 448.90,751.90 C445.58,747.72 444.28,742.70 443.90,739.30 C443.52,735.90 444.98,734.90 446.60,731.50 C448.22,728.10 451.38,723.08 453.60,718.90 C455.82,714.72 458.98,710.05 459.90,706.40 C460.82,702.75 458.97,700.13 459.10,697.00 C459.23,693.87 459.25,691.27 460.70,687.60 C462.15,683.93 465.32,678.92 467.80,675.00 C470.28,671.08 473.73,667.23 475.60,664.10 C477.47,660.97 478.27,659.60 479.00,656.20 C479.73,652.80 479.90,647.83 480.00,643.70 C480.10,639.57 479.67,633.45 479.60,631.40 Z" fill="#66cc00" stroke="#333333" stroke-width="0.9" stroke-linejoin="round"/>
<line x1="481.40" y1="676.60" x2="481.40" y2="705.60" stroke="#333333" stroke-width="1"/>
<line x1="481.40" y1="746.70" x2="481.40" y2="802.00" stroke="#333333" stroke-width="1"/>
<rect x="477.50" y="705.60" width="7.80" height="41.10" fill="none" stroke="#333333" stroke-width="0.95"/>
<line x1="477.50" y1="732.00" x2="485.30" y2="732.00" stroke="#1a1a1a" stroke-width="1.5"/>
<circle cx="481.40" cy="631.40" r="1.5" fill="#222"/>
<path d="M559.30,649.30 L575.70,649.30 C577.23,651.60 582.62,658.68 584.90,663.10 C587.18,667.52 588.23,671.57 589.40,675.80 C590.57,680.03 591.37,684.27 591.90,688.50 C592.43,692.73 592.63,695.90 592.60,701.20 C592.57,706.50 592.03,715.00 591.70,720.30 C591.37,725.60 590.98,728.77 590.60,733.00 C590.22,737.23 590.35,740.40 589.40,745.70 C588.45,751.00 586.00,759.40 584.90,764.80 C583.80,770.20 583.15,775.88 582.80,778.10 L552.20,778.10 C551.85,775.88 551.20,770.20 550.10,764.80 C549.00,759.40 546.55,751.00 545.60,745.70 C544.65,740.40 544.78,737.23 544.40,733.00 C544.02,728.77 543.63,725.60 543.30,720.30 C542.97,715.00 542.43,706.50 542.40,701.20 C542.37,695.90 542.57,692.73 543.10,688.50 C543.63,684.27 544.43,680.03 545.60,675.80 C546.77,671.57 547.82,667.52 550.10,663.10 C552.38,658.68 557.77,651.60 559.30,649.30 Z" fill="#4e93d2" stroke="#333333" stroke-width="0.9" stroke-linejoin="round"/>
<line x1="567.50" y1="649.30" x2="567.50" y2="689.10" stroke="#333333" stroke-width="1"/>
<line x1="567.50" y1="746.70" x2="567.50" y2="778.10" stroke="#333333" stroke-width="1"/>
<rect x="563.60" y="689.10" width="7.80" height="57.60" fill="none" stroke="#333333" stroke-width="0.95"/>
<line x1="563.60" y1="720.00" x2="571.40" y2="720.00" stroke="#1a1a1a" stroke-width="1.5"/>
<path d="M643.80,683.20 L663.20,683.20 C664.53,684.92 668.68,690.07 671.20,693.50 C673.72,696.93 676.15,699.93 678.30,703.80 C680.45,707.67 682.17,712.40 684.10,716.70 C686.03,721.00 688.50,725.52 689.90,729.60 C691.30,733.68 692.62,737.33 692.50,741.20 C692.38,745.07 691.90,748.72 689.20,752.80 C686.50,756.88 680.17,761.40 676.30,765.70 C672.43,770.00 668.37,774.32 666.00,778.60 C663.63,782.88 663.07,786.68 662.10,791.40 C661.13,796.12 660.73,803.03 660.20,806.90 C659.67,810.77 659.37,812.33 658.90,814.60 C658.43,816.87 657.65,819.52 657.40,820.50 L649.60,820.50 C649.35,819.52 648.57,816.87 648.10,814.60 C647.63,812.33 647.33,810.77 646.80,806.90 C646.27,803.03 645.87,796.12 644.90,791.40 C643.93,786.68 643.37,782.88 641.00,778.60 C638.63,774.32 634.57,770.00 630.70,765.70 C626.83,761.40 620.50,756.88 617.80,752.80 C615.10,748.72 614.62,745.07 614.50,741.20 C614.38,737.33 615.70,733.68 617.10,729.60 C618.50,725.52 620.97,721.00 622.90,716.70 C624.83,712.40 626.55,707.67 628.70,703.80 C630.85,699.93 633.28,696.93 635.80,693.50 C638.32,690.07 642.47,684.92 643.80,683.20 Z" fill="#8767d0" stroke="#333333" stroke-width="0.9" stroke-linejoin="round"/>
<line x1="653.50" y1="683.20" x2="653.50" y2="714.50" stroke="#333333" stroke-width="1"/>
<line x1="653.50" y1="760.80" x2="653.50" y2="820.50" stroke="#333333" stroke-width="1"/>
<rect x="649.60" y="714.50" width="7.80" height="46.30" fill="none" stroke="#333333" stroke-width="0.95"/>
<line x1="649.60" y1="734.70" x2="657.40" y2="734.70" stroke="#1a1a1a" stroke-width="1.5"/>
<rect x="430.25" y="623.25" width="275.00" height="206.60" fill="none" stroke="#1c1c1c" stroke-width="1.4"/>
<line x1="428.45" y1="627.25" x2="430.25" y2="627.25" stroke="#333333" stroke-width="1.1"/>
<text x="0" y="0" font-size="15" text-anchor="end" fill="#111" transform="translate(426.45,633.05) scale(1,1.04)">2000</text>
<line x1="428.45" y1="687.25" x2="430.25" y2="687.25" stroke="#333333" stroke-width="1.1"/>
<text x="0" y="0" font-size="15" text-anchor="end" fill="#111" transform="translate(426.45,693.05) scale(1,1.04)">1500</text>
<line x1="428.45" y1="747.00" x2="430.25" y2="747.00" stroke="#333333" stroke-width="1.1"/>
<text x="0" y="0" font-size="15" text-anchor="end" fill="#111" transform="translate(426.45,752.80) scale(1,1.04)">1000</text>
<line x1="428.45" y1="807.00" x2="430.25" y2="807.00" stroke="#333333" stroke-width="1.1"/>
<text x="0" y="0" font-size="15" text-anchor="end" fill="#111" transform="translate(426.45,812.80) scale(1,1.04)">500</text>
<line x1="481.40" y1="829.85" x2="481.40" y2="831.65" stroke="#333333" stroke-width="1.1"/>
<text x="0" y="0" font-size="15" text-anchor="middle" fill="#111" transform="translate(481.40,843.95) scale(1,1.04)">Amazonian</text>
<line x1="567.50" y1="829.85" x2="567.50" y2="831.65" stroke="#333333" stroke-width="1.1"/>
<text x="0" y="0" font-size="15" text-anchor="middle" fill="#111" transform="translate(567.50,843.95) scale(1,1.04)">Antillean</text>
<line x1="653.50" y1="829.85" x2="653.50" y2="831.65" stroke="#333333" stroke-width="1.1"/>
<text x="0" y="0" font-size="15" text-anchor="middle" fill="#111" transform="translate(653.50,843.95) scale(1,1.04)">Florida</text>
<text x="0" y="0" font-size="15" text-anchor="middle" fill="#111" transform="translate(567.75,866.70) scale(1,1.04)">Species</text>
<text x="0" y="0" font-size="15.35" text-anchor="middle" fill="#111" transform="translate(381.25,725.95) rotate(-90)">Frequency Modulation (Hz)</text>
<text x="0" y="0" font-size="25" fill="#111" transform="translate(390.50,604.90) scale(0.9,1)">F</text>
<text x="0" y="0" font-size="24" fill="#111" transform="translate(403.50,603.70) scale(0.9,1)">)</text>
<path d="M111.90,907.20 L129.30,907.20 C129.38,909.00 129.25,914.20 129.80,918.00 C130.35,921.80 131.53,926.00 132.60,930.00 C133.67,934.00 135.35,938.40 136.20,942.00 C137.05,945.60 137.80,948.00 137.70,951.60 C137.60,955.20 136.35,959.60 135.60,963.60 C134.85,967.60 133.63,971.20 133.20,975.60 C132.77,980.00 132.97,985.60 133.00,990.00 C133.03,994.40 133.57,998.38 133.40,1002.00 C133.23,1005.62 132.48,1009.13 132.00,1011.70 C131.52,1014.27 130.75,1016.45 130.50,1017.40 L110.70,1017.40 C110.45,1016.45 109.68,1014.27 109.20,1011.70 C108.72,1009.13 107.97,1005.62 107.80,1002.00 C107.63,998.38 108.17,994.40 108.20,990.00 C108.23,985.60 108.43,980.00 108.00,975.60 C107.57,971.20 106.35,967.60 105.60,963.60 C104.85,959.60 103.60,955.20 103.50,951.60 C103.40,948.00 104.15,945.60 105.00,942.00 C105.85,938.40 107.53,934.00 108.60,930.00 C109.67,926.00 110.85,921.80 111.40,918.00 C111.95,914.20 111.82,909.00 111.90,907.20 Z" fill="#66cc00" stroke="#333333" stroke-width="0.9" stroke-linejoin="round"/>
<line x1="120.60" y1="907.20" x2="120.60" y2="941.40" stroke="#333333" stroke-width="1"/>
<line x1="120.60" y1="990.60" x2="120.60" y2="1017.40" stroke="#333333" stroke-width="1"/>
<rect x="116.70" y="941.40" width="7.80" height="49.20" fill="none" stroke="#333333" stroke-width="0.95"/>
<line x1="116.70" y1="957.90" x2="124.50" y2="957.90" stroke="#1a1a1a" stroke-width="1.5"/>
<path d="M204.70,979.20 L208.70,979.20 C208.53,980.62 207.62,985.02 207.70,987.70 C207.78,990.38 208.25,992.55 209.20,995.30 C210.15,998.05 211.73,1001.23 213.40,1004.20 C215.07,1007.17 216.33,1010.33 219.20,1013.10 C222.07,1015.87 227.12,1018.68 230.60,1020.80 C234.08,1022.92 237.60,1024.12 240.10,1025.80 C242.60,1027.48 245.92,1028.35 245.60,1030.90 C245.28,1033.45 241.97,1037.70 238.20,1041.10 C234.43,1044.50 227.45,1048.12 223.00,1051.30 C218.55,1054.48 214.08,1057.45 211.50,1060.20 C208.92,1062.95 207.70,1065.27 207.50,1067.80 C207.30,1070.33 208.57,1072.65 210.30,1075.40 C212.03,1078.15 215.85,1081.97 217.90,1084.30 C219.95,1086.63 222.03,1088.02 222.60,1089.40 C223.17,1090.78 222.12,1091.65 221.30,1092.60 C220.48,1093.55 218.30,1094.68 217.70,1095.10 L195.70,1095.10 C195.10,1094.68 192.92,1093.55 192.10,1092.60 C191.28,1091.65 190.23,1090.78 190.80,1089.40 C191.37,1088.02 193.45,1086.63 195.50,1084.30 C197.55,1081.97 201.37,1078.15 203.10,1075.40 C204.83,1072.65 206.10,1070.33 205.90,1067.80 C205.70,1065.27 204.48,1062.95 201.90,1060.20 C199.32,1057.45 194.85,1054.48 190.40,1051.30 C185.95,1048.12 178.97,1044.50 175.20,1041.10 C171.43,1037.70 168.12,1033.45 167.80,1030.90 C167.48,1028.35 170.80,1027.48 173.30,1025.80 C175.80,1024.12 179.32,1022.92 182.80,1020.80 C186.28,1018.68 191.33,1015.87 194.20,1013.10 C197.07,1010.33 198.33,1007.17 200.00,1004.20 C201.67,1001.23 203.25,998.05 204.20,995.30 C205.15,992.55 205.62,990.38 205.70,987.70 C205.78,985.02 204.87,980.62 204.70,979.20 Z" fill="#4e93d2" stroke="#333333" stroke-width="0.9" stroke-linejoin="round"/>
<line x1="206.70" y1="1004.20" x2="206.70" y2="1027.40" stroke="#333333" stroke-width="1"/>
<line x1="206.70" y1="1048.30" x2="206.70" y2="1055.10" stroke="#333333" stroke-width="1"/>
<rect x="202.80" y="1027.40" width="7.80" height="20.90" fill="none" stroke="#333333" stroke-width="0.95"/>
<line x1="202.80" y1="1034.50" x2="210.60" y2="1034.50" stroke="#1a1a1a" stroke-width="1.5"/>
<circle cx="206.70" cy="979.20" r="1.5" fill="#222"/>
<circle cx="206.70" cy="1083.70" r="1.5" fill="#222"/>
<circle cx="206.70" cy="1086.90" r="1.5" fill="#222"/>
<circle cx="206.70" cy="1090.00" r="1.5" fill="#222"/>
<circle cx="206.70" cy="1092.60" r="1.5" fill="#222"/>
<circle cx="206.70" cy="1095.10" r="1.5" fill="#222"/>
<path d="M286.00,1015.60 L299.40,1015.60 C300.15,1016.67 301.45,1019.67 303.90,1022.00 C306.35,1024.33 310.92,1027.07 314.10,1029.60 C317.28,1032.13 320.48,1034.65 323.00,1037.20 C325.52,1039.75 329.00,1042.35 329.20,1044.90 C329.40,1047.45 326.72,1049.75 324.20,1052.50 C321.68,1055.25 316.43,1058.65 314.10,1061.40 C311.77,1064.15 310.73,1066.67 310.20,1069.00 C309.67,1071.33 311.32,1073.17 310.90,1075.40 C310.48,1077.63 308.23,1081.23 307.70,1082.40 L277.70,1082.40 C277.17,1081.23 274.92,1077.63 274.50,1075.40 C274.08,1073.17 275.73,1071.33 275.20,1069.00 C274.67,1066.67 273.63,1064.15 271.30,1061.40 C268.97,1058.65 263.72,1055.25 261.20,1052.50 C258.68,1049.75 256.00,1047.45 256.20,1044.90 C256.40,1042.35 259.88,1039.75 262.40,1037.20 C264.92,1034.65 268.12,1032.13 271.30,1029.60 C274.48,1027.07 279.05,1024.33 281.50,1022.00 C283.95,1019.67 285.25,1016.67 286.00,1015.60 Z" fill="#8767d0" stroke="#333333" stroke-width="0.9" stroke-linejoin="round"/>
<line x1="292.70" y1="1015.60" x2="292.70" y2="1038.50" stroke="#333333" stroke-width="1"/>
<line x1="292.70" y1="1062.40" x2="292.70" y2="1082.40" stroke="#333333" stroke-width="1"/>
<rect x="288.80" y="1038.50" width="7.80" height="23.90" fill="none" stroke="#333333" stroke-width="0.95"/>
<line x1="288.80" y1="1048.90" x2="296.60" y2="1048.90" stroke="#1a1a1a" stroke-width="1.5"/>
<rect x="69.50" y="897.50" width="274.75" height="207.10" fill="none" stroke="#1c1c1c" stroke-width="1.4"/>
<line x1="67.70" y1="930.50" x2="69.50" y2="930.50" stroke="#333333" stroke-width="1.1"/>
<text x="0" y="0" font-size="15" text-anchor="end" fill="#111" transform="translate(65.70,936.30) scale(1,1.04)">5000</text>
<line x1="67.70" y1="989.50" x2="69.50" y2="989.50" stroke="#333333" stroke-width="1.1"/>
<text x="0" y="0" font-size="15" text-anchor="end" fill="#111" transform="translate(65.70,995.30) scale(1,1.04)">4000</text>
<line x1="67.70" y1="1048.50" x2="69.50" y2="1048.50" stroke="#333333" stroke-width="1.1"/>
<text x="0" y="0" font-size="15" text-anchor="end" fill="#111" transform="translate(65.70,1054.30) scale(1,1.04)">3000</text>
<line x1="120.60" y1="1104.60" x2="120.60" y2="1106.40" stroke="#333333" stroke-width="1.1"/>
<text x="0" y="0" font-size="15" text-anchor="middle" fill="#111" transform="translate(120.60,1118.20) scale(1,1.04)">Amazonian</text>
<line x1="206.70" y1="1104.60" x2="206.70" y2="1106.40" stroke="#333333" stroke-width="1.1"/>
<text x="0" y="0" font-size="15" text-anchor="middle" fill="#111" transform="translate(206.70,1118.20) scale(1,1.04)">Antillean</text>
<line x1="292.70" y1="1104.60" x2="292.70" y2="1106.40" stroke="#333333" stroke-width="1.1"/>
<text x="0" y="0" font-size="15" text-anchor="middle" fill="#111" transform="translate(292.70,1118.20) scale(1,1.04)">Florida</text>
<text x="0" y="0" font-size="15" text-anchor="middle" fill="#111" transform="translate(206.88,1141.45) scale(1,1.04)">Species</text>
<text x="0" y="0" font-size="15.35" text-anchor="middle" fill="#111" transform="translate(19.95,1002.05) rotate(-90)">Maximum Frequency (Hz)</text>
<text x="0" y="0" font-size="25" fill="#111" transform="translate(34.10,889.70) scale(0.9,1)">G</text>
<text x="0" y="0" font-size="24" fill="#111" transform="translate(51.70,888.50) scale(0.9,1)">)</text>
<path d="M460.40,955.00 L493.00,955.00 C494.00,956.38 496.83,959.97 499.00,963.30 C501.17,966.63 503.80,971.22 506.00,975.00 C508.20,978.78 510.67,982.42 512.20,986.00 C513.73,989.58 514.95,993.38 515.20,996.50 C515.45,999.62 514.67,1002.28 513.70,1004.70 C512.73,1007.12 510.95,1008.88 509.40,1011.00 C507.85,1013.12 506.27,1015.40 504.40,1017.40 C502.53,1019.40 500.10,1020.95 498.20,1023.00 C496.30,1025.05 494.20,1027.27 493.00,1029.70 C491.80,1032.13 490.67,1034.52 491.00,1037.60 C491.33,1040.68 493.33,1044.65 495.00,1048.20 C496.67,1051.75 499.62,1055.35 501.00,1058.90 C502.38,1062.45 503.42,1065.97 503.30,1069.50 C503.18,1073.03 501.97,1076.23 500.30,1080.10 C498.63,1083.97 494.47,1090.60 493.30,1092.70 L460.10,1092.70 C458.93,1090.60 454.77,1083.97 453.10,1080.10 C451.43,1076.23 450.22,1073.03 450.10,1069.50 C449.98,1065.97 451.02,1062.45 452.40,1058.90 C453.78,1055.35 456.73,1051.75 458.40,1048.20 C460.07,1044.65 462.07,1040.68 462.40,1037.60 C462.73,1034.52 461.60,1032.13 460.40,1029.70 C459.20,1027.27 457.10,1025.05 455.20,1023.00 C453.30,1020.95 450.87,1019.40 449.00,1017.40 C447.13,1015.40 445.55,1013.12 444.00,1011.00 C442.45,1008.88 440.67,1007.12 439.70,1004.70 C438.73,1002.28 437.95,999.62 438.20,996.50 C438.45,993.38 439.67,989.58 441.20,986.00 C442.73,982.42 445.20,978.78 447.40,975.00 C449.60,971.22 452.23,966.63 454.40,963.30 C456.57,959.97 459.40,956.38 460.40,955.00 Z" fill="#66cc00" stroke="#333333" stroke-width="0.9" stroke-linejoin="round"/>
<line x1="476.70" y1="955.00" x2="476.70" y2="990.20" stroke="#333333" stroke-width="1"/>
<line x1="476.70" y1="1063.50" x2="476.70" y2="1092.70" stroke="#333333" stroke-width="1"/>
<rect x="472.80" y="990.20" width="7.80" height="73.30" fill="none" stroke="#333333" stroke-width="0.95"/>
<line x1="472.80" y1="1005.50" x2="480.60" y2="1005.50" stroke="#1a1a1a" stroke-width="1.5"/>
<path d="M548.50,903.40 L576.70,903.40 C578.08,904.88 582.38,908.43 585.00,912.30 C587.62,916.17 591.20,921.83 592.40,926.60 C593.60,931.37 592.72,936.15 592.20,940.90 C591.68,945.65 589.83,950.35 589.30,955.10 C588.77,959.85 588.70,964.63 589.00,969.40 C589.30,974.17 591.65,978.93 591.10,983.70 C590.55,988.47 587.18,993.23 585.70,998.00 C584.22,1002.77 583.55,1007.53 582.20,1012.30 C580.85,1017.07 578.80,1021.83 577.60,1026.60 C576.40,1031.37 575.65,1035.95 575.00,1040.90 C574.35,1045.85 573.92,1053.73 573.70,1056.30 L551.50,1056.30 C551.28,1053.73 550.85,1045.85 550.20,1040.90 C549.55,1035.95 548.80,1031.37 547.60,1026.60 C546.40,1021.83 544.35,1017.07 543.00,1012.30 C541.65,1007.53 540.98,1002.77 539.50,998.00 C538.02,993.23 534.65,988.47 534.10,983.70 C533.55,978.93 535.90,974.17 536.20,969.40 C536.50,964.63 536.43,959.85 535.90,955.10 C535.37,950.35 533.52,945.65 533.00,940.90 C532.48,936.15 531.60,931.37 532.80,926.60 C534.00,921.83 537.58,916.17 540.20,912.30 C542.82,908.43 547.12,904.88 548.50,903.40 Z" fill="#4e93d2" stroke="#333333" stroke-width="0.9" stroke-linejoin="round"/>
<line x1="562.60" y1="903.40" x2="562.60" y2="935.40" stroke="#333333" stroke-width="1"/>
<line x1="562.60" y1="1002.60" x2="562.60" y2="1056.30" stroke="#333333" stroke-width="1"/>
<rect x="558.70" y="935.40" width="7.80" height="67.20" fill="none" stroke="#333333" stroke-width="0.95"/>
<line x1="558.70" y1="974.70" x2="566.50" y2="974.70" stroke="#1a1a1a" stroke-width="1.5"/>
<path d="M634.10,927.40 L661.70,927.40 C662.95,928.77 666.37,931.98 669.20,935.60 C672.03,939.22 677.35,944.58 678.70,949.10 C680.05,953.62 677.98,957.73 677.30,962.70 C676.62,967.67 674.48,973.25 674.60,978.90 C674.72,984.55 676.53,991.40 678.00,996.60 C679.47,1001.80 682.05,1006.03 683.40,1010.10 C684.75,1014.17 686.43,1017.15 686.10,1021.00 C685.77,1024.85 684.00,1029.37 681.40,1033.20 C678.80,1037.03 674.12,1040.38 670.50,1044.00 C666.88,1047.62 662.40,1051.55 659.70,1054.90 C657.00,1058.25 655.20,1062.57 654.30,1064.10 L641.50,1064.10 C640.60,1062.57 638.80,1058.25 636.10,1054.90 C633.40,1051.55 628.92,1047.62 625.30,1044.00 C621.68,1040.38 617.00,1037.03 614.40,1033.20 C611.80,1029.37 610.03,1024.85 609.70,1021.00 C609.37,1017.15 611.05,1014.17 612.40,1010.10 C613.75,1006.03 616.33,1001.80 617.80,996.60 C619.27,991.40 621.08,984.55 621.20,978.90 C621.32,973.25 619.18,967.67 618.50,962.70 C617.82,957.73 615.75,953.62 617.10,949.10 C618.45,944.58 623.77,939.22 626.60,935.60 C629.43,931.98 632.85,928.77 634.10,927.40 Z" fill="#8767d0" stroke="#333333" stroke-width="0.9" stroke-linejoin="round"/>
<line x1="647.90" y1="927.40" x2="647.90" y2="960.00" stroke="#333333" stroke-width="1"/>
<line x1="647.90" y1="1025.00" x2="647.90" y2="1064.10" stroke="#333333" stroke-width="1"/>
<rect x="644.00" y="960.00" width="7.80" height="65.00" fill="none" stroke="#333333" stroke-width="0.95"/>
<line x1="644.00" y1="991.80" x2="651.80" y2="991.80" stroke="#1a1a1a" stroke-width="1.5"/>
<rect x="426.00" y="894.75" width="272.75" height="206.60" fill="none" stroke="#1c1c1c" stroke-width="1.4"/>
<line x1="424.20" y1="913.00" x2="426.00" y2="913.00" stroke="#333333" stroke-width="1.1"/>
<text x="0" y="0" font-size="15" text-anchor="end" fill="#111" transform="translate(422.20,918.80) scale(1,1.04)">400</text>
<line x1="424.20" y1="961.25" x2="426.00" y2="961.25" stroke="#333333" stroke-width="1.1"/>
<text x="0" y="0" font-size="15" text-anchor="end" fill="#111" transform="translate(422.20,967.05) scale(1,1.04)">300</text>
<line x1="424.20" y1="1010.00" x2="426.00" y2="1010.00" stroke="#333333" stroke-width="1.1"/>
<text x="0" y="0" font-size="15" text-anchor="end" fill="#111" transform="translate(422.20,1015.80) scale(1,1.04)">200</text>
<line x1="424.20" y1="1058.50" x2="426.00" y2="1058.50" stroke="#333333" stroke-width="1.1"/>
<text x="0" y="0" font-size="15" text-anchor="end" fill="#111" transform="translate(422.20,1064.30) scale(1,1.04)">100</text>
<line x1="476.70" y1="1101.35" x2="476.70" y2="1103.15" stroke="#333333" stroke-width="1.1"/>
<text x="0" y="0" font-size="15" text-anchor="middle" fill="#111" transform="translate(476.70,1115.80) scale(1,1.04)">Amazonian</text>
<line x1="562.60" y1="1101.35" x2="562.60" y2="1103.15" stroke="#333333" stroke-width="1.1"/>
<text x="0" y="0" font-size="15" text-anchor="middle" fill="#111" transform="translate(562.60,1115.80) scale(1,1.04)">Antillean</text>
<line x1="647.90" y1="1101.35" x2="647.90" y2="1103.15" stroke="#333333" stroke-width="1.1"/>
<text x="0" y="0" font-size="15" text-anchor="middle" fill="#111" transform="translate(647.90,1115.80) scale(1,1.04)">Florida</text>
<text x="0" y="0" font-size="15" text-anchor="middle" fill="#111" transform="translate(562.38,1138.50) scale(1,1.04)">Species</text>
<text x="0" y="0" font-size="15.2" text-anchor="middle" fill="#111" transform="translate(386.60,997.55) rotate(-90)">Duration (ms)</text>
<text x="0" y="0" font-size="25" fill="#111" transform="translate(390.40,889.80) scale(0.9,1)">H</text>
<text x="0" y="0" font-size="24" fill="#111" transform="translate(407.70,888.60) scale(0.9,1)">)</text>
</svg></body></html>
